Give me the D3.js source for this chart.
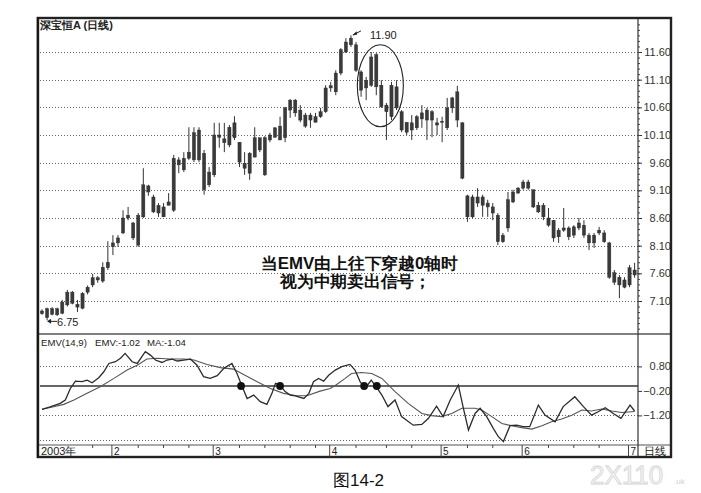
<!DOCTYPE html>
<html><head><meta charset="utf-8">
<script src="https://cdn.jsdelivr.net/npm/d3@7"></script>
<style>
body{margin:0;background:#fff}
svg{display:block}
text{font-family:"Liberation Sans",Arial,sans-serif}
</style>
</head><body>
<svg id="c" width="701" height="493"></svg>
<script>
// ---- data ----
const openP =[6.92,6.96,6.86,6.85,6.88,7.03,7.26,7.04,6.97,7.26,7.39,7.48,7.46,7.70,8.08,8.15,8.33,8.60,8.51,8.11,8.62,9.07,8.98,8.83,8.62,8.83,8.74,9.65,9.47,9.68,9.65,10.19,9.77,9.20,9.38,10.10,10.03,9.92,10.05,9.97,9.59,9.41,9.70,9.83,10.05,10.01,10.06,10.01,10.05,10.55,10.73,10.55,10.46,10.37,10.33,10.43,10.52,10.95,10.88,11.22,11.60,11.73,11.73,11.24,11.09,11.00,11.55,11.00,10.64,10.43,10.97,10.52,10.15,10.19,10.23,10.39,10.37,10.52,10.32,10.35,10.23,10.59,10.88,10.32,8.62,8.62,8.98,8.98,8.87,8.80,8.65,8.29,8.42,8.89,9.05,9.14,9.25,9.11,8.83,8.83,8.60,8.56,8.38,8.38,8.42,8.29,8.42,8.47,8.29,8.29,8.33,8.33,8.15,7.61,7.53,7.48,7.39,7.57];
const closeP=[6.87,6.80,6.96,6.96,7.08,7.26,7.06,6.99,7.24,7.35,7.52,7.52,7.71,7.80,8.15,8.24,8.60,8.65,8.24,8.65,9.20,9.18,8.71,8.69,8.80,8.89,9.68,9.56,9.68,9.79,10.14,9.65,9.11,9.43,10.10,10.06,9.96,10.24,10.32,9.61,9.50,9.77,10.05,10.05,9.38,10.10,10.23,10.26,10.59,10.73,10.50,10.37,10.26,10.46,10.43,10.52,10.95,10.99,11.22,11.64,11.78,11.85,11.27,10.91,10.95,11.51,10.97,10.61,10.52,11.00,10.59,10.19,10.33,10.32,10.43,10.50,10.55,10.37,10.28,10.33,10.59,10.77,10.37,9.32,9.00,8.98,8.87,8.83,8.80,8.69,8.17,8.17,8.93,9.07,9.14,9.25,9.14,8.80,8.71,8.62,8.47,8.24,8.26,8.42,8.26,8.44,8.51,8.29,8.15,8.15,8.38,8.17,7.53,7.44,7.39,7.35,7.70,7.66];
const highP =[6.95,6.98,6.99,6.98,7.12,7.30,7.28,7.12,7.26,7.38,7.59,7.55,7.80,8.18,8.29,8.29,8.74,8.80,8.53,8.69,9.50,9.20,9.02,8.87,8.87,9.05,9.74,9.70,9.79,10.24,10.24,10.24,9.83,9.52,10.32,10.32,10.32,10.28,10.44,9.97,9.79,9.79,10.24,10.05,10.08,10.14,10.24,10.43,10.61,10.75,10.75,10.64,10.50,10.50,10.50,10.59,11.00,11.06,11.27,11.67,11.85,11.90,11.78,11.27,11.15,11.60,11.58,11.09,10.68,11.06,11.09,10.55,10.33,10.46,10.46,10.64,10.59,10.55,10.41,10.43,10.77,10.79,10.99,10.33,9.02,9.02,9.14,9.02,8.93,8.87,8.69,8.33,9.07,9.11,9.16,9.29,9.29,9.11,8.89,8.87,8.78,8.56,8.42,8.78,8.45,8.47,8.60,8.56,8.33,8.33,8.44,8.38,8.17,7.66,7.57,7.53,7.75,7.79];
const lowP  =[6.85,6.75,6.84,6.83,6.86,7.00,7.04,6.90,6.95,7.22,7.35,7.43,7.43,7.66,7.93,8.08,8.31,8.56,8.20,8.08,8.60,9.00,8.69,8.62,8.62,8.83,8.71,9.41,9.43,9.65,9.61,9.61,9.02,9.16,9.34,9.87,9.79,9.88,10.01,9.52,9.38,9.29,9.70,9.79,9.36,9.97,10.05,10.01,9.97,10.41,10.43,10.33,10.23,10.23,10.33,10.41,10.50,10.88,10.82,11.18,11.58,11.69,11.24,10.79,10.73,10.97,10.82,10.59,10.01,10.37,10.55,10.15,10.10,10.01,10.19,10.23,10.01,10.06,10.10,9.97,10.19,10.50,10.24,9.30,8.53,8.60,8.80,8.62,8.62,8.56,8.11,8.15,8.35,8.87,9.04,9.11,9.11,8.78,8.69,8.56,8.44,8.17,8.15,8.35,8.20,8.24,8.38,8.24,8.02,8.06,8.29,8.15,7.50,7.39,7.15,7.33,7.35,7.52];

const emvIdx=[0,1.6,3.6,4.6,5.6,6.6,7.9,8.9,9.9,11.2,12.2,13.2,14.5,15.5,16.4,17.8,18.8,20.4,21.4,22.4,23.7,24.7,25.7,26.7,28.0,29.3,30.6,31.9,33.2,34.6,35.9,37.5,38.5,39.4,40.5,41.8,43.1,44.4,45.4,46.1,47.0,48.0,49.0,50.0,51.7,52.7,53.6,54.6,55.6,56.6,57.9,59.2,60.8,61.8,62.8,63.8,65.0,66.1,67.1,68.3,69.7,71.0,73.3,75.0,76.3,77.9,79.2,80.6,82.2,83.2,84.2,85.5,86.5,87.8,89.1,90.1,91.1,92.4,93.7,95.0,96.3,98.0,99.3,101.3,102.9,105.2,106.9,108.5,109.8,111.2,112.8,114.3,116.1,117];
const emvVal=[-0.95,-0.85,-0.71,-0.57,-0.10,0.20,0.18,0.24,0.13,0.34,0.58,0.92,0.99,1.13,1.33,0.99,0.92,1.40,1.26,1.06,0.96,1.06,1.10,1.02,1.06,1.10,0.85,0.38,0.31,0.42,0.72,0.92,0.51,0.04,-0.51,-0.37,-0.64,-0.75,-0.30,0.11,0.04,-0.23,-0.37,-0.40,-0.51,-0.30,0.18,0.31,0.20,0.44,0.65,0.79,0.88,0.65,0.18,-0.10,0.24,-0.07,-0.37,-0.84,-0.57,-1.25,-1.60,-1.57,-1.32,-0.82,-1.25,-0.57,0.04,-0.91,-1.80,-1.12,-0.91,-1.25,-1.73,-2.07,-2.27,-1.62,-1.60,-1.66,-1.66,-0.78,-1.19,-1.46,-0.84,-0.44,-0.84,-1.19,-1.05,-0.89,-1.12,-1.32,-0.78,-1.02];
const maIdx=[0,2.3,4.3,6.3,8.9,11.5,14.2,16.8,18.8,20.7,22.7,25.3,28.0,30.0,32.6,35.2,37.8,39.8,42.4,45.1,47.7,50.3,52.3,54.9,56.9,57.9,59.8,61.1,63.1,65.1,67.1,69.7,72.3,75.0,76.9,78.9,80.9,82.9,85.5,86.8,88.8,90.8,92.7,94.7,96.7,98.7,100.6,102.6,104.6,106.6,108.5,110.5,112.5,114.5,117];
const maVal=[-0.95,-0.85,-0.75,-0.57,-0.30,-0.03,0.31,0.65,0.85,1.10,1.13,1.10,1.10,1.06,0.88,0.75,0.69,0.47,0.18,-0.10,-0.30,-0.40,-0.40,-0.21,-0.10,0.02,0.30,0.51,0.55,0.51,0.31,-0.23,-0.71,-1.12,-1.21,-1.25,-1.12,-0.91,-0.91,-0.98,-1.25,-1.53,-1.62,-1.70,-1.76,-1.62,-1.46,-1.35,-1.19,-0.98,-1.02,-0.94,-1.02,-1.08,-1.04];
const crossIdx=[39.3,47.0,63.6,66.1];

const priceTicks=[11.6,11.1,10.6,10.1,9.6,9.1,8.6,8.1,7.6,7.1];
const priceMinor=[6.6,6.7,6.8,6.9,7.0,7.1,7.2,7.3,7.4,7.5,7.6,7.7,7.8,7.9,8.0,8.1,8.2,8.3,8.4,8.5,8.6,8.7,8.8,8.9,9.0,9.1,9.2,9.3,9.4,9.5,9.6,9.7,9.8,9.9,10.0,10.1,10.2,10.3,10.4,10.5,10.6,10.7,10.8,10.9,11.0,11.1,11.2,11.3,11.4,11.5,11.6,11.7,11.8,11.9,12.0,12.1];
const emvLabels=[0.8,-0.2,-1.2];
const emvDotted=[0.8,-1.2,-2.2];
const monthStart=[14,34,57,79,95,116];
const monthLabels=["2","3","4","5","6","7"];
const weekTicks=[10,19,24,29,39,44,49,54,62,68,73,84,89,100,105,110];
const legendTexts=["EMV(14,9)","EMV:-1.02","MA:-1.04"];

// ---- layout ----
const L=37,T=17,R=672,B=458,AX=638,PB=334,IB=445;
const svg=d3.select("#c");
svg.append("rect").attr("width",701).attr("height",493).attr("fill","#fff");

const x=d3.scaleLinear().domain([0,117]).range([42,634.6]);
const yP=d3.scaleLinear().domain([6.5,12.2]).range([334.2,18.8]);
const yE=d3.scaleLinear().domain([-2.4,2.0]).range([444.8,337.0]);

const dotted="1,2";
svg.append("g").selectAll("line").data(priceTicks).join("line")
  .attr("x1",40).attr("x2",AX).attr("y1",d=>Math.round(yP(d))+0.5).attr("y2",d=>Math.round(yP(d))+0.5)
  .attr("stroke","#666").attr("stroke-width",1).attr("stroke-dasharray",dotted);
svg.append("g").selectAll("line").data(emvDotted).join("line")
  .attr("x1",40).attr("x2",AX).attr("y1",d=>Math.round(yE(d))+0.5).attr("y2",d=>Math.round(yE(d))+0.5)
  .attr("stroke","#666").attr("stroke-width",1).attr("stroke-dasharray",dotted);
svg.append("line").attr("x1",40).attr("x2",AX).attr("y1",yE(0)).attr("y2",yE(0))
  .attr("stroke","#666").attr("stroke-width",1.8);

// price axis
const pax=svg.append("g").attr("transform",`translate(${AX},0)`)
  .call(d3.axisRight(yP).tickValues(priceTicks).tickSize(4).tickFormat(d3.format(".2f")));
pax.select(".domain").remove();
pax.selectAll("line").attr("stroke","#333");
pax.selectAll("text").attr("x",33).attr("text-anchor","end").attr("font-size",11)
  .attr("fill","#333").attr("font-family","Liberation Sans, Arial, sans-serif");
const pmin=svg.append("g").attr("transform",`translate(${AX},0)`)
  .call(d3.axisRight(yP).tickValues(priceMinor).tickSize(2).tickFormat(""));
pmin.select(".domain").remove();
pmin.selectAll("line").attr("stroke","#444");

// emv axis
const eax=svg.append("g").attr("transform",`translate(${AX},0)`)
  .call(d3.axisRight(yE).tickValues(emvLabels).tickSize(4).tickFormat(d3.format(".2f")));
eax.select(".domain").remove();
eax.selectAll("line").attr("stroke","#333");
eax.selectAll("text").attr("x",33).attr("text-anchor","end").attr("font-size",11)
  .attr("fill","#333").attr("font-family","Liberation Sans, Arial, sans-serif");

// candles
const idx=d3.range(openP.length);
const cg=svg.append("g");
cg.selectAll("line").data(idx).join("line")
  .attr("x1",i=>x(i)).attr("x2",i=>x(i))
  .attr("y1",i=>yP(highP[i])).attr("y2",i=>yP(lowP[i]))
  .attr("stroke","#333").attr("stroke-width",1);
cg.selectAll("rect").data(idx).join("rect")
  .attr("x",i=>x(i)-1.6).attr("width",3.2)
  .attr("y",i=>yP(Math.max(openP[i],closeP[i])))
  .attr("height",i=>Math.max(1.2,Math.abs(yP(openP[i])-yP(closeP[i]))))
  .attr("fill","#3a3a3a").attr("stroke","#2a2a2a").attr("stroke-width",0.4);

// annotations on price panel
svg.append("ellipse").attr("cx",x(66.8)).attr("cy",yP(10.99)).attr("rx",23).attr("ry",41)
  .attr("fill","none").attr("stroke","#222").attr("stroke-width",1.1);
const hx=x(61),hy=yP(11.9);
svg.append("line").attr("x1",hx+10).attr("y1",hy-4.5).attr("x2",hx+2).attr("y2",hy-0.5)
  .attr("stroke","#222").attr("stroke-width",1);
svg.append("path").attr("d",`M${hx+1.5},${hy}l4,-4.2l0.8,3.2z`).attr("fill","#222");
svg.append("text").attr("x",hx+19).attr("y",hy+4).attr("font-size",11).attr("fill","#222").text("11.90");
const lx=x(1),ly=yP(6.75);
svg.append("line").attr("x1",lx+10).attr("y1",ly+1).attr("x2",lx+1).attr("y2",ly+1)
  .attr("stroke","#222").attr("stroke-width",1);
svg.append("path").attr("d",`M${lx},${ly+1}l4,-2.5v5z`).attr("fill","#222");
svg.append("text").attr("x",lx+10).attr("y",ly+5.5).attr("font-size",11).attr("fill","#222").text("6.75");

// emv lines
const line=d3.line().x(d=>x(d[0])).y(d=>yE(d[1]));
svg.append("path").datum(maIdx.map((d,i)=>[d,maVal[i]])).attr("d",line)
  .attr("fill","none").attr("stroke","#555").attr("stroke-width",1.1);
svg.append("path").datum(emvIdx.map((d,i)=>[d,emvVal[i]])).attr("d",line)
  .attr("fill","none").attr("stroke","#2c2c2c").attr("stroke-width",1.3);
svg.append("g").selectAll("circle").data(crossIdx).join("circle")
  .attr("cx",d=>x(d)).attr("cy",yE(0)).attr("r",3.9).attr("fill","#111");

// frame & separators
svg.append("line").attr("x1",L).attr("x2",R).attr("y1",PB).attr("y2",PB).attr("stroke","#555").attr("stroke-width",1.3);
svg.append("line").attr("x1",L).attr("x2",R).attr("y1",IB).attr("y2",IB).attr("stroke","#555").attr("stroke-width",1.2);
svg.append("line").attr("x1",AX).attr("x2",AX).attr("y1",T).attr("y2",B).attr("stroke","#333").attr("stroke-width",1.2);
svg.append("rect").attr("x",L+1).attr("y",T+1).attr("width",R-L-2).attr("height",B-T-2)
  .attr("fill","none").attr("stroke","#222").attr("stroke-width",2.4);
svg.append("line").attr("x1",L+0.5).attr("x2",L+0.5).attr("y1",T).attr("y2",B).attr("stroke","#111").attr("stroke-width",1.5);

// x axis strip
svg.append("g").selectAll("line").data(monthStart).join("line")
  .attr("x1",d=>x(d-0.2)).attr("x2",d=>x(d-0.2)).attr("y1",IB).attr("y2",B-1)
  .attr("stroke","#444").attr("stroke-width",1);
svg.append("g").selectAll("text").data(monthStart).join("text")
  .attr("x",d=>x(d-0.2)+2).attr("y",455).attr("font-size",10).attr("fill","#222")
  .text((d,i)=>monthLabels[i]);
svg.append("g").selectAll("line").data(weekTicks).join("line")
  .attr("x1",d=>x(d)).attr("x2",d=>x(d)).attr("y1",IB).attr("y2",IB+3)
  .attr("stroke","#444").attr("stroke-width",1);
svg.append("text").attr("x",41).attr("y",455).attr("font-size",11).attr("fill","#222")
  .attr("font-family","Liberation Sans, Noto Sans CJK SC, sans-serif").text("2003年");
svg.append("text").attr("x",644).attr("y",455).attr("font-size",11).attr("fill","#222")
  .attr("font-family","Noto Sans CJK SC, sans-serif").text("日线");

// titles
svg.append("text").attr("x",40).attr("y",29).attr("font-size",11).attr("font-weight","bold").attr("fill","#222")
  .attr("font-family","Noto Sans CJK SC, sans-serif").text("深宝恒A (日线)");
svg.append("g").selectAll("text").data(legendTexts).join("text")
  .attr("x",(d,i)=>[41,95,147][i]).attr("y",345.5).attr("font-size",9.6).attr("fill","#222")
  .text(d=>d);

// annotation text
svg.append("text").attr("x",261).attr("y",269).attr("font-size",16).attr("font-weight","bold").attr("fill","#111")
  .attr("font-family","Noto Sans CJK SC, sans-serif").attr("textLength",197).attr("lengthAdjust","spacingAndGlyphs")
  .text("当EMV由上往下穿越0轴时");
svg.append("text").attr("x",280).attr("y",287).attr("font-size",16).attr("font-weight","bold").attr("fill","#111")
  .attr("font-family","Noto Sans CJK SC, sans-serif").attr("textLength",151).attr("lengthAdjust","spacingAndGlyphs")
  .text("视为中期卖出信号；");

// caption
svg.append("text").attr("x",333).attr("y",486).attr("font-size",17).attr("fill","#111")
  .attr("font-family","Liberation Serif, Noto Sans CJK SC, serif").text("图14-2");

// watermark
svg.append("text").attr("x",590).attr("y",484).attr("font-size",26).attr("fill","#f6f6f6")
  .attr("stroke","#d4d4d4").attr("stroke-width",0.8).text("2X110");
svg.append("text").attr("x",674).attr("y",484).attr("font-size",8).attr("fill","#d0d0d0").text(".uk");
</script>
</body></html>
